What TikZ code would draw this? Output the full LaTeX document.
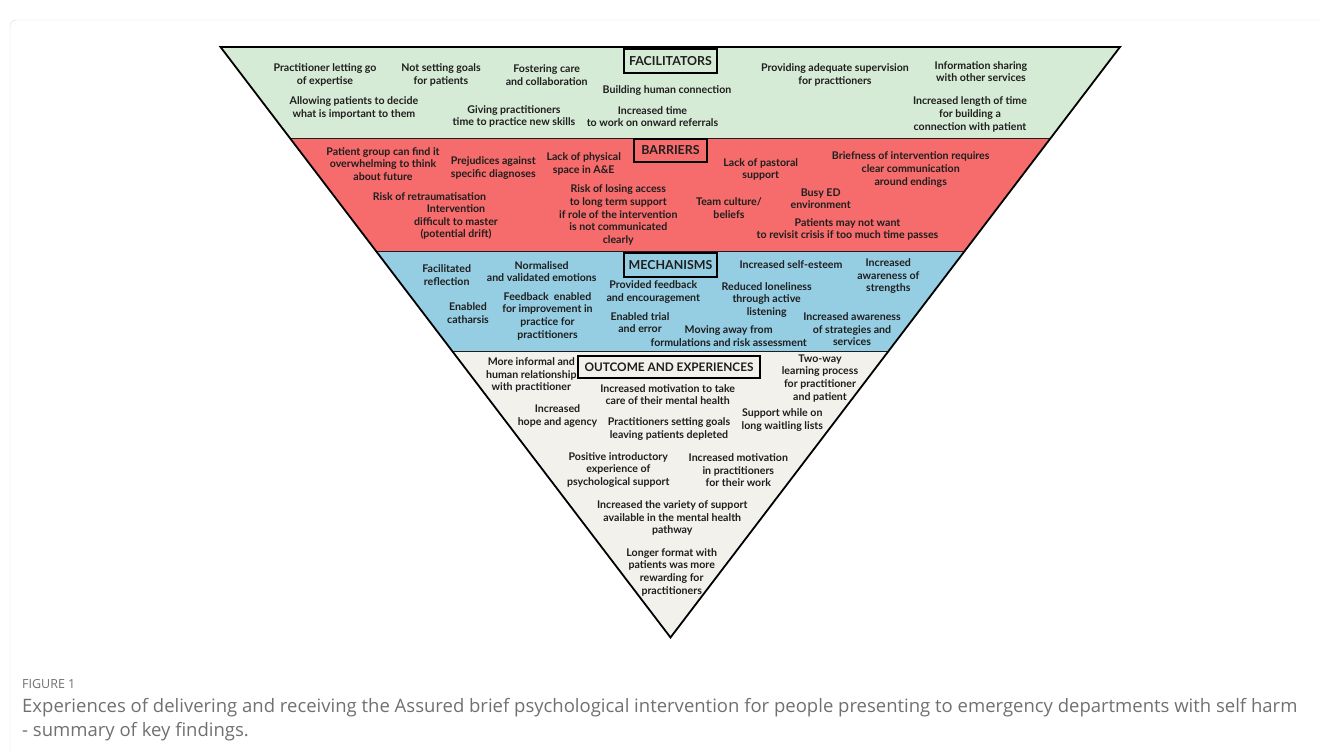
\documentclass[tikz,border=0pt]{standalone}
\usepackage{fontspec}
\setmainfont{Lato}
\newfontfamily\capfont{Open Sans}
\usepackage{xcolor}
\usepackage{tikz}
\usetikzlibrary{positioning}
\definecolor{facil}{HTML}{D6EBD6}
\definecolor{barr}{HTML}{F66B6B}
\definecolor{mech}{HTML}{95CDE3}
\definecolor{outc}{HTML}{F2F1EC}
\definecolor{ink}{HTML}{1E1E1E}
\definecolor{capgray}{HTML}{707070}
\definecolor{framegray}{HTML}{D9D9D9}

\begin{document}
\begin{tikzpicture}[x=1pt,y=-1pt,
item/.style={align=center,inner sep=0pt,text=ink,font=\bfseries\fontsize{10.6}{12.7}\selectfont},
heading/.style={draw=black,line width=1.3pt,inner sep=0pt,text=ink,minimum height=24pt,font=\bfseries\fontsize{12.4}{14}\selectfont},
band/.style={draw=ink,line width=0.8pt}]
\useasboundingbox (0,0) rectangle (1320,751);
\draw[framegray,rounded corners=6pt] (10,20) rectangle (1340,780);

\coordinate (tl) at (220.5,47);
\coordinate (tr) at (1120,47);
\coordinate (apex) at (670.5,637.5);

\begin{scope}
\clip (tl) -- (tr) -- (apex) -- cycle;
\fill[facil] (200,40) rectangle (1140,138.5);
\fill[barr] (200,138.5) rectangle (1140,251);
\fill[mech] (200,251) rectangle (1140,351.5);
\fill[outc] (200,351.5) rectangle (1140,640);
\draw[band] (200,138.5) -- (1140,138.5);
\draw[band] (200,251) -- (1140,251);
\draw[band] (200,351.5) -- (1140,351.5);
\end{scope}
\draw[line width=1.8pt,line join=miter] (tl) -- (tr) -- (apex) -- cycle;

\node[heading,fill=facil,minimum width=93pt] (facT) at (670.5,61) {FACILITATORS};
\node[item] (letgo) at (325,75.3) {Practitioner letting go\\of expertise};
\node[item] (nogoals) at (441,75.3) {Not setting goals\\for patients};
\node[item] (fostering) at (546.7,75.3) {Fostering care\\and collaboration};
\node[item] (humanconn) at (667,90.3) {Building human connection};
\node[item] (supervision) at (835,75) {Providing adequate supervision\\for practtioners};
\node[item] (infoshare) at (981,71.7) {Information sharing\\with other services};
\node[item] (allowing) at (354,108.2) {Allowing patients to decide\\what is important to them};
\node[item] (newskills) at (514,116.5) {Giving practitioners\\time to practice new skills};
\node[item] (onward) at (652.5,116.5) {Increased time\\to work on onward referrals};
\node[item] (lengthtime) at (970,114.3) {Increased length of time\\for building a\\connection with patient};

\node[heading,fill=barr,minimum width=73pt,minimum height=23pt] (barT) at (670.5,150.5) {BARRIERS};
\node[item] (overwhelm) at (383,163.8) {Patient group can find it\\overwhelming to think\\about future};
\node[item] (prejudice) at (493.3,168) {Prejudices against\\specific diagnoses};
\node[item] (space) at (583.7,164) {Lack of physical\\space in A\&E};
\node[item] (retrauma) at (429.5,196.7) {Risk of retraumatisation};
\node[item] (master) at (456,222.2) {Intervention\\difficult to master\\(potential drift)};
\node[item] (losing) at (618.3,215) {Risk of losing access\\to long term support\\if role of the intervention\\is not communicated\\clearly};
\node[item] (pastoral) at (760.7,169.5) {Lack of pastoral\\support};
\node[item] (briefness) at (910.7,169.5) {Briefness of intervention requires\\clear communication\\around endings};
\node[item] (busyed) at (820.7,198.7) {Busy ED\\environment};
\node[item] (teamcult) at (729,208.3) {Team culture/\\beliefs};
\node[item] (revisit) at (847.5,229.5) {Patients may not want\\to revisit crisis if too much time passes};

\node[heading,fill=mech,minimum width=93pt] (mechT) at (670.5,265) {MECHANISMS};
\node[item] (reflection) at (446.7,275) {Facilitated\\reflection};
\node[item] (normalised) at (541.7,271.7) {Normalised\\and validated emotions};
\node[item] (provided) at (653.3,292) {Provided feedback\\and encouragement};
\node[item] (improvement) at (547.5,316.2) {Feedback\ \ enabled\\for improvement in\\practice for\\practitioners};
\node[item] (catharsis) at (468,312.8) {Enabled\\catharsis};
\node[item] (trial) at (640,322.5) {Enabled trial\\and error};
\node[item] (movingaway) at (728.7,336.3) {Moving away from\\formulations and risk assessment};
\node[item] (selfesteem) at (791,264.3) {Increased self-esteem};
\node[item] (strengths) at (888.3,276.3) {Increased\\awareness of\\strengths};
\node[item] (loneliness) at (766.7,300) {Reduced loneliness\\through active\\listening};
\node[item] (strategies) at (852,329.2) {Increased awareness\\of strategies and\\services};

\node[heading,fill=outc,minimum width=182pt,minimum height=22pt,font=\bfseries\fontsize{11.8}{13}\selectfont] (outT) at (669,367) {OUTCOME AND EXPERIENCES};
\node[item] (informal) at (531.3,375) {More informal and\\human relationship\\with practitioner};
\node[item] (twoway) at (820,378.2) {Two-way\\learning process\\for practitioner\\and patient};
\node[item] (motivation) at (667.7,394.7) {Increased motivation to take\\care of their mental health};
\node[item] (hope) at (557.5,416.3) {Increased\\hope and agency};
\node[item] (depleted) at (669,428.8) {Practitioners setting goals\\leaving patients depleted};
\node[item] (waiting) at (782.3,420) {Support while on\\long waitling lists};
\node[item] (introductory) at (618.3,469.8) {Positive introductory\\experience of\\psychological support};
\node[item] (practmotiv) at (738.3,470.3) {Increased motivation\\in practitioners\\for their work};
\node[item] (variety) at (672.3,518) {Increased the variety of support\\available in the mental health\\pathway};
\node[item] (longer) at (671.7,572.2) {Longer format with\\patients was more\\rewarding for\\practitioners};

\node[anchor=west,inner sep=0pt,text=capgray,font=\capfont\fontsize{12.5}{14}\selectfont] (figno) at (22,684) {FIGURE 1};
\node[anchor=north west,inner sep=0pt,align=left,text=capgray,font=\capfont\fontsize{18.5}{24}\selectfont] (caption) at (22,698) {Experiences of delivering and receiving the Assured brief psychological intervention for people presenting to emergency departments with self harm\\- summary of key findings.};
\end{tikzpicture}
\end{document}
